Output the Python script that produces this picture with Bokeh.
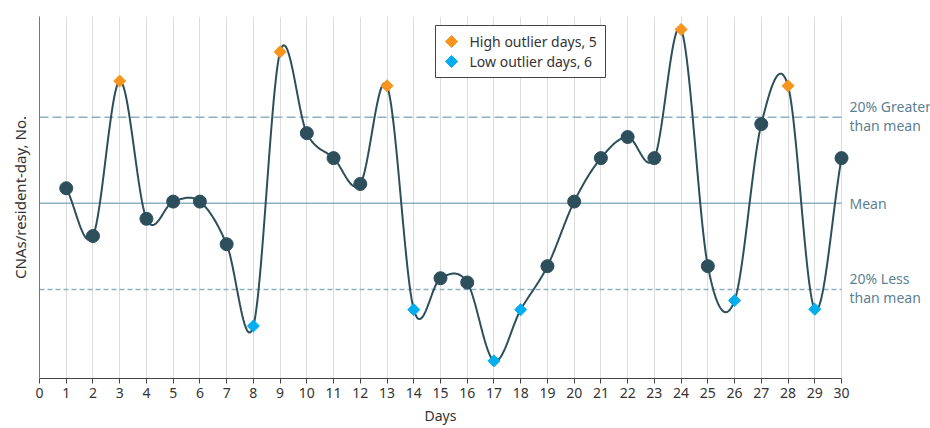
import numpy as np
from bokeh.plotting import figure
from bokeh.models import Range1d, FixedTicker, Label, Title
from bokeh.core.properties import value
from bokeh.embed import file_html
from bokeh.resources import INLINE

# ---- data ----
DAYS = list(range(1, 31))
VALUES = [1.035, 0.924, 1.284, 0.964, 1.004, 1.004, 0.905, 0.715, 1.352, 1.163,
          1.105, 1.045, 1.273, 0.753, 0.826, 0.816, 0.634, 0.753, 0.854, 1.004,
          1.105, 1.154, 1.105, 1.404, 0.854, 0.774, 1.184, 1.273, 0.754, 1.105]
MEAN = 1.0
HIGH_FACTOR = 1.2
LOW_FACTOR = 0.8
X_TICKS = list(range(0, 31))
LEGEND_LABELS = ["High outlier days, 5", "Low outlier days, 6"]
REF_LABELS = [("20% Greater", "than mean"), ("Mean",), ("20% Less", "than mean")]

# ---- layout / style ----
FONT = "Noto Sans"
LINE_C = "#2d4f5c"
REF_C = "#8db1c0"
REF_TEXT_C = "#5b8194"
ORANGE = "#f7941d"
BLUE = "#00aeef"
AXIS_PX = 802            # pixels used by days 0..30
FRAME_W, FRAME_H = 891, 362
X_MIN, X_MAX = 0, 30 * FRAME_W / AXIS_PX
Y_MIN, Y_MAX = 0.593, 1.434
# legend box in px from frame top-left
LEG_L, LEG_R, LEG_T, LEG_B = 396, 566, 9, 61
LEG_GLYPH_X, LEG_TEXT_X = 412, 430
LEG_ROWS_Y = [25, 45]


def px_to_data(px, py_from_top):
    return (X_MIN + px / FRAME_W * (X_MAX - X_MIN),
            Y_MAX - py_from_top / FRAME_H * (Y_MAX - Y_MIN))


# ---- smooth curve (cubic Hermite / Catmull-Rom through points) ----
xs = np.array(DAYS, dtype=float)
ys = np.array(VALUES, dtype=float)
m = np.gradient(ys)
cx, cy = [], []
t = np.linspace(0, 1, 25)
for i in range(len(xs) - 1):
    h00 = 2 * t**3 - 3 * t**2 + 1
    h10 = t**3 - 2 * t**2 + t
    h01 = -2 * t**3 + 3 * t**2
    h11 = t**3 - t**2
    seg = h00 * ys[i] + h10 * m[i] + h01 * ys[i + 1] + h11 * m[i + 1]
    sx = xs[i] + t
    if i > 0:
        seg, sx = seg[1:], sx[1:]
    cx.extend(sx.tolist())
    cy.extend(seg.tolist())

high = [(d, v) for d, v in zip(DAYS, VALUES) if v > HIGH_FACTOR * MEAN]
low = [(d, v) for d, v in zip(DAYS, VALUES) if v < LOW_FACTOR * MEAN]
normal = [(d, v) for d, v in zip(DAYS, VALUES) if LOW_FACTOR * MEAN <= v <= HIGH_FACTOR * MEAN]

p = figure(frame_width=FRAME_W, frame_height=FRAME_H, output_backend="svg", toolbar_location=None,
           x_range=Range1d(X_MIN, X_MAX), y_range=Range1d(Y_MIN, Y_MAX),
           min_border_left=39, min_border_right=0, min_border_top=16, min_border_bottom=50)
p.outline_line_color = None
p.background_fill_color = "white"
p.border_fill_color = "white"

# grid
p.ygrid.grid_line_color = None
p.xgrid.ticker = FixedTicker(ticks=X_TICKS)
p.xgrid.grid_line_color = "#dcdcdc"
p.xgrid.grid_line_width = 1

# axes
p.xaxis.ticker = FixedTicker(ticks=X_TICKS)
p.xaxis.bounds = (X_TICKS[0], X_TICKS[-1])
p.xaxis.axis_line_color = "#444444"
p.xaxis.major_tick_line_color = "#444444"
p.xaxis.major_tick_out = 5
p.xaxis.major_tick_in = 0
p.xaxis.minor_tick_line_color = None
p.xaxis.major_label_text_font = FONT
p.xaxis.major_label_text_font_size = "14px"
p.xaxis.major_label_text_color = "#333333"
p.xaxis.major_label_standoff = 4

p.yaxis.ticker = FixedTicker(ticks=[])
p.yaxis.minor_tick_line_color = None
p.yaxis.major_tick_line_color = None
p.yaxis.axis_line_color = "#777777"
p.yaxis.axis_label = "CNAs/resident-day, No."
p.yaxis.axis_label_text_font = FONT
p.yaxis.axis_label_text_font_size = "15px"
p.yaxis.axis_label_text_font_style = "normal"
p.yaxis.axis_label_text_color = "#333333"
p.yaxis.axis_label_standoff = 10

# x axis title, centred under days 0..30
p.add_layout(Title(text="Days", align="left", offset=AXIS_PX / 2 - 16, standoff=6,
                   text_font=FONT, text_font_size="14px", text_font_style="normal",
                   text_color="#333333"), "below")

# reference lines (days 0..30)
ref_levels = [MEAN * HIGH_FACTOR, MEAN, MEAN * LOW_FACTOR]
ref_dash = ["9 4", "solid", "5 3"]
for lvl, dash in zip(ref_levels, ref_dash):
    p.segment(x0=[X_TICKS[0]], y0=[lvl], x1=[X_TICKS[-1]], y1=[lvl],
              line_color=REF_C, line_width=1.5, line_dash=dash)

# reference labels
for yv, lines in zip(ref_levels, REF_LABELS):
    offs = [0] if len(lines) == 1 else [11, -8]
    for txt, off in zip(lines, offs):
        p.add_layout(Label(x=X_TICKS[-1], y=yv, x_offset=8, y_offset=off, text=txt,
                           text_font=FONT, text_font_size="14px", text_color=REF_TEXT_C,
                           text_baseline="middle", text_align="left"))

# curve
p.line(cx, cy, line_color=LINE_C, line_width=2)

# markers
p.scatter([d for d, v in normal], [v for d, v in normal], marker="circle", size=13,
          fill_color=LINE_C, line_color=LINE_C)
p.scatter([d for d, v in high], [v for d, v in high], marker="square", angle=np.pi / 4,
          size=8.5, fill_color=ORANGE, line_color=ORANGE)
p.scatter([d for d, v in low], [v for d, v in low], marker="square", angle=np.pi / 4,
          size=8.5, fill_color=BLUE, line_color=BLUE)

# legend drawn with glyphs (box, rotated-square diamonds, text)
bl, bt = px_to_data(LEG_L, LEG_T)
br, bb = px_to_data(LEG_R, LEG_B)
p.quad(left=[bl], right=[br], top=[bt], bottom=[bb], fill_color="white",
       line_color="#444444", line_width=1)
gxs, gys, txs = [], [], []
for ry in LEG_ROWS_Y:
    gx, gy = px_to_data(LEG_GLYPH_X, ry)
    tx, _ = px_to_data(LEG_TEXT_X, ry)
    gxs.append(gx)
    gys.append(gy)
    txs.append(tx)
p.scatter(gxs, gys, marker="square", angle=np.pi / 4, size=8.5,
          fill_color=[ORANGE, BLUE], line_color=[ORANGE, BLUE])
p.text(txs, gys, text=LEGEND_LABELS, text_font=value(FONT), text_font_size="14px",
       text_color="#333333", text_baseline="middle", text_align="left")

open("out.html", "w").write(file_html(p, INLINE))
